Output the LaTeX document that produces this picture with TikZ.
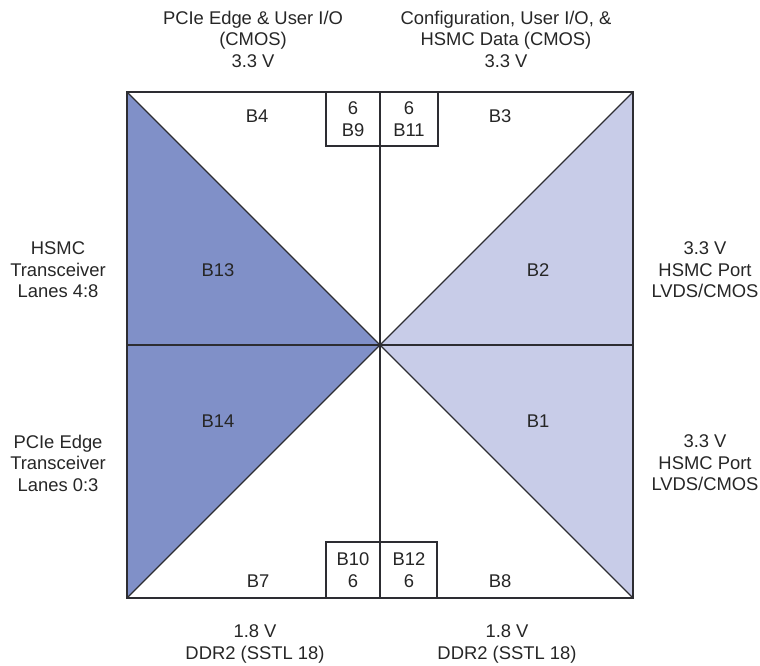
\documentclass[tikz,border=0pt]{standalone}
\usepackage{fontspec}
\setmainfont{Liberation Sans}
\usetikzlibrary{positioning}

\definecolor{bankdark}{RGB}{128,144,200}
\definecolor{banklight}{RGB}{200,204,232}
\definecolor{edgegray}{RGB}{45,45,50}

\begin{document}
\begin{tikzpicture}[x=1pt, y=-1pt,
		lbl/.style = {align = center, inner sep = 0pt, font = \fontsize{18.4}{21.5}\selectfont, text = black!85},
		bline/.style = {draw = edgegray, line width = 1.1pt}]
		
		\useasboundingbox (0,0) rectangle (760,666);
		
		\coordinate (tl) at (127,92);
		\coordinate (tr) at (633,92);
		\coordinate (br) at (633,598);
		\coordinate (bl) at (127,598);
		\coordinate (c) at (380,345);
		
		\fill[bankdark] (tl) -- (c) -- (bl) -- cycle;
		\fill[banklight] (tr) -- (c) -- (br) -- cycle;
		
		\draw[bline, fill = white] (326,92) rectangle (438,146);
		\draw[bline, fill = white] (326,542) rectangle (437,598);
		
		\path[bline]
		(tl) edge[] (br)
		(tr) edge[] (bl)
		(c) edge[] (380,92)
		(c) edge[] (380,598)
		(c) edge[] (127,345)
		(c) edge[] (633,345)
		;
		\draw[bline] (tl) rectangle (br);
		
		% bank labels
		\node[lbl] at (257,116) (b4) {B4};
		\node[lbl] at (500,116) (b3) {B3};
		\node[lbl] at (218,270) (b13) {B13};
		\node[lbl] at (538,270) (b2) {B2};
		\node[lbl] at (218,421) (b14) {B14};
		\node[lbl] at (538,421) (b1) {B1};
		\node[lbl] at (258,581) (b7) {B7};
		\node[lbl] at (500,581) (b8) {B8};
		\node[lbl] at (353,119) (b9) {6\\B9};
		\node[lbl] at (409,119) (b11) {6\\B11};
		\node[lbl] at (353,570) (b10) {B10\\6};
		\node[lbl] at (409,570) (b12) {B12\\6};
		
		% outside labels
		\node[lbl] at (253,39) (top1) {PCIe Edge \& User I/O\\(CMOS)\\3.3 V};
		\node[lbl] at (506,39) (top2) {Configuration, User I/O, \&\\HSMC Data (CMOS)\\3.3 V};
		\node[lbl] at (58,270) (left1) {HSMC\\Transceiver\\Lanes 4:8};
		\node[lbl] at (58,463) (left2) {PCIe Edge\\Transceiver\\Lanes 0:3};
		\node[lbl] at (705,270) (right1) {3.3 V\\HSMC Port\\LVDS/CMOS};
		\node[lbl] at (705,463) (right2) {3.3 V\\HSMC Port\\LVDS/CMOS};
		\node[lbl] at (255,644) (bot1) {1.8 V\\DDR2 (SSTL 18)};
		\node[lbl] at (507,644) (bot2) {1.8 V\\DDR2 (SSTL 18)};
		
\end{tikzpicture}
\end{document}
